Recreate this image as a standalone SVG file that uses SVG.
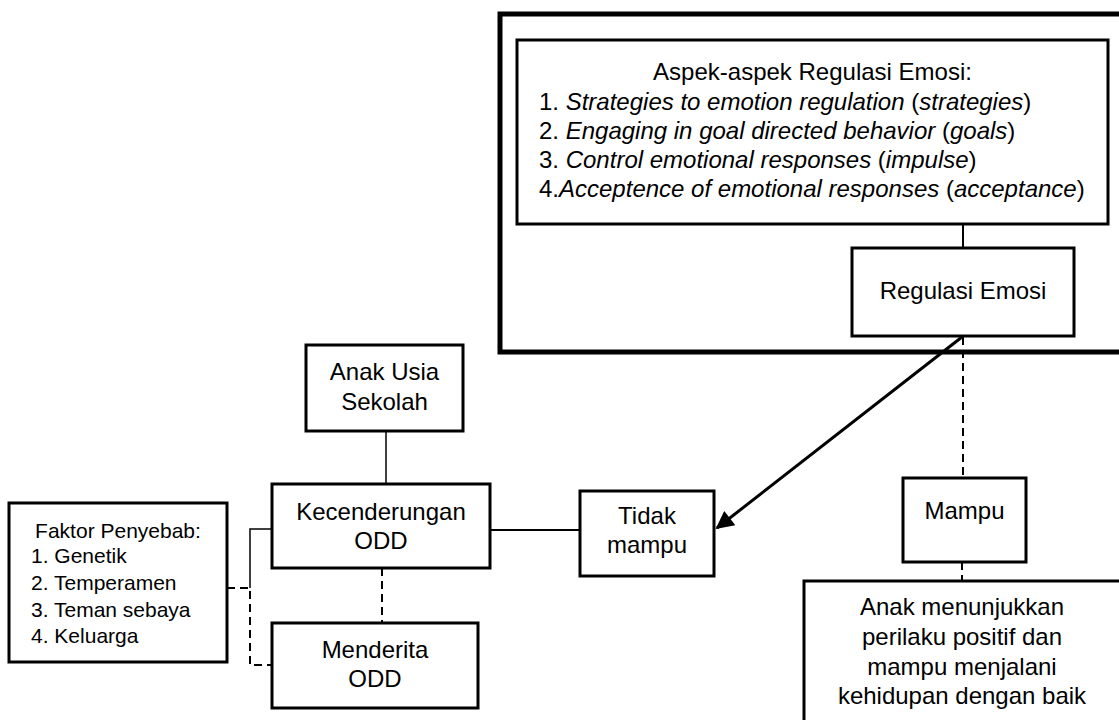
<svg xmlns="http://www.w3.org/2000/svg" width="1119" height="720" viewBox="0 0 1119 720">
<style>
  .box { fill: #ffffff; stroke: #000000; stroke-width: 3; }
  .frame { fill: none; stroke: #000000; stroke-width: 5; }
  .t { font-family: "Liberation Sans", Arial, sans-serif; font-size: 24px; fill: #000000; }
  .s { font-family: "Liberation Sans", Arial, sans-serif; font-size: 21px; fill: #000000; }
  .mid { text-anchor: middle; }
  .it { font-style: italic; }
  .line { fill: none; stroke: #000000; stroke-width: 2; }
  .thin { fill: none; stroke: #000000; stroke-width: 1.5; }
  .dash { fill: none; stroke: #000000; stroke-width: 2; stroke-dasharray: 8 5; }
  .arrow { fill: none; stroke: #000000; stroke-width: 3; }
</style>
<defs>
  <marker id="head" viewBox="0 0 10 10" refX="9" refY="5" markerWidth="7" markerHeight="6" markerUnits="strokeWidth" orient="auto">
    <path d="M0,0 L10,5 L0,10 Z" fill="#000000"/>
  </marker>
</defs>
<rect width="1119" height="720" fill="#ffffff"/>

<g id="frame-regulasi">
  <rect class="frame" x="500" y="14" width="640" height="338"/>
</g>

<g id="connectors">
  <line class="line" x1="963" y1="224" x2="963" y2="248"/>
  <line class="arrow" x1="962" y1="337" x2="717" y2="528" marker-end="url(#head)"/>
  <line class="dash" x1="963" y1="337" x2="963" y2="478"/>
  <line class="dash" x1="962" y1="562" x2="962" y2="581"/>
  <line class="thin" x1="386" y1="431" x2="386" y2="484"/>
  <line class="line" x1="490" y1="530" x2="580" y2="530"/>
  <line class="dash" x1="382" y1="568" x2="382" y2="623"/>
  <polyline class="thin" points="250,588 250,529 273,529"/>
  <polyline class="dash" points="227,588 250,588 250,665 272,665"/>
</g>

<g id="node-aspek">
  <rect class="box" x="517" y="40" width="591" height="184"/>
  <text class="t mid" x="812.5" y="80">Aspek-aspek Regulasi Emosi:</text>
  <text class="t" x="539" y="110">1. <tspan class="it">Strategies to emotion regulation</tspan> (<tspan class="it">strategies</tspan>)</text>
  <text class="t" x="539" y="139">2. <tspan class="it">Engaging in goal directed behavior</tspan> (<tspan class="it">goals</tspan>)</text>
  <text class="t" x="539" y="168">3. <tspan class="it">Control emotional responses</tspan> (<tspan class="it">impulse</tspan>)</text>
  <text class="t" x="539" y="197">4.<tspan class="it">Acceptence of emotional responses</tspan> (<tspan class="it">acceptance</tspan>)</text>
</g>

<g id="node-regulasi">
  <rect class="box" x="852" y="248" width="222" height="88"/>
  <text class="t mid" x="963" y="299">Regulasi Emosi</text>
</g>

<g id="node-mampu">
  <rect class="box" x="903" y="478" width="123" height="84"/>
  <text class="t mid" x="964.5" y="519">Mampu</text>
</g>

<g id="node-hasil">
  <rect class="box" x="804" y="581" width="330" height="160"/>
  <text class="t mid" x="962" y="615">Anak menunjukkan</text>
  <text class="t mid" x="962" y="645">perilaku positif dan</text>
  <text class="t mid" x="962" y="675">mampu menjalani</text>
  <text class="t mid" x="962" y="704">kehidupan dengan baik</text>
</g>

<g id="node-tidak-mampu">
  <rect class="box" x="580" y="491" width="134" height="85"/>
  <text class="t mid" x="647" y="524">Tidak</text>
  <text class="t mid" x="647" y="553">mampu</text>
</g>

<g id="node-anak">
  <rect class="box" x="306" y="345" width="157" height="86"/>
  <text class="t mid" x="384.5" y="380">Anak Usia</text>
  <text class="t mid" x="384.5" y="410">Sekolah</text>
</g>

<g id="node-kecenderungan">
  <rect class="box" x="272" y="484" width="218" height="84"/>
  <text class="t mid" x="381" y="520">Kecenderungan</text>
  <text class="t mid" x="381" y="549">ODD</text>
</g>

<g id="node-menderita">
  <rect class="box" x="272" y="623" width="206" height="85"/>
  <text class="t mid" x="375" y="658">Menderita</text>
  <text class="t mid" x="375" y="687">ODD</text>
</g>

<g id="node-faktor">
  <rect class="box" x="9" y="503" width="218" height="159"/>
  <text class="s mid" x="118" y="538">Faktor Penyebab:</text>
  <text class="s" x="31" y="563">1. Genetik</text>
  <text class="s" x="31" y="590">2. Temperamen</text>
  <text class="s" x="31" y="617">3. Teman sebaya</text>
  <text class="s" x="31" y="643">4. Keluarga</text>
</g>
</svg>
